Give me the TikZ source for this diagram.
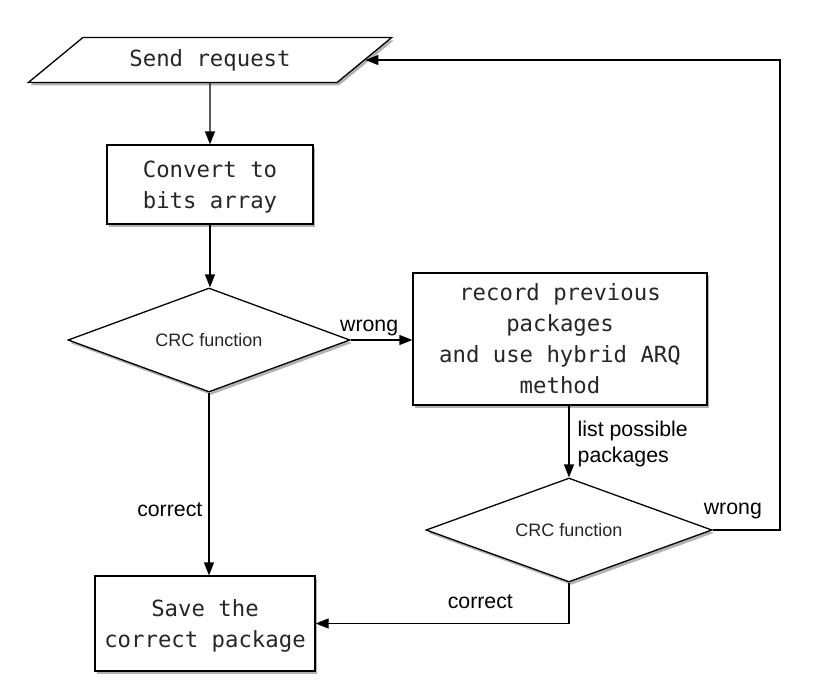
\documentclass[tikz,border=0pt]{standalone}
\usepackage{fontspec}
\setmonofont{DejaVu Sans Mono}
\setsansfont{Liberation Sans}
\usetikzlibrary{shapes.geometric,shadows,arrows.meta}
\begin{document}
\begin{tikzpicture}[x=1pt,y=-1pt,
  every node/.style={inner sep=0pt},
  base/.style={draw=black, line width=1.3pt, fill=white,
    drop shadow={shadow xshift=2pt, shadow yshift=-3pt, opacity=0.3, fill=black},
    font=\fontsize{22.3}{31}\selectfont\ttfamily, text=black!85, align=center},
  lowtext/.style={text depth=-3pt},
  procbox/.style={base, rectangle, lowtext},
  iobox/.style={base, trapezium, trapezium left angle=32, trapezium right angle=148,
    trapezium stretches=true},
  decision/.style={base, diamond, aspect=2.75, font=\fontsize{18}{22}\selectfont\sffamily},
  conn/.style={line width=1.3pt, -{Triangle[length=13pt,width=10pt]}},
  lbl/.style={font=\fontsize{21.3}{26}\selectfont\sffamily, text=black, align=center}
]
\useasboundingbox (0,0) rectangle (824,698);

\node[iobox, minimum width=364pt, minimum height=45pt] (send) at (210,60) {Send request};
\node[procbox, minimum width=206pt, minimum height=79pt] (conv) at (210,184.5) {Convert to\\bits array};
\node[decision, minimum width=282pt, minimum height=104pt] (d1) at (209,340) {CRC function};
\node[procbox, minimum width=294pt, minimum height=132pt] (rec) at (560,339) {record previous\\packages\\and use hybrid ARQ\\method};
\node[decision, minimum width=286pt, minimum height=104pt] (d2) at (569,530) {CRC function};
\node[procbox, minimum width=220pt, minimum height=95pt] (save) at (205,623.5) {Save the\\correct package};

\draw[conn] (send.south) -- (conv.north);
\draw[conn] (conv.south) -- (d1.north -| conv.south);
\draw[conn] (d1.east) -- (d1.east -| rec.west) node[lbl, pos=0.3, above=3pt] {wrong};
\draw[conn] (d2.north |- rec.south) -- (d2.north)
  node[lbl, midway, right=8pt, yshift=-2pt, align=left] {list possible\\packages};
\coordinate (loopc) at (780,530);
\draw[conn] (d2.east) -- (loopc) node[lbl, pos=0.3, above=10pt] {wrong} |- (send.east);
\draw[conn] (d2.south) |- (save.east) node[lbl, pos=0.675, above=14pt] {correct};
\draw[conn] (d1.south) -- (d1.south |- save.north) node[lbl, pos=0.64, left=6pt] {correct};
\end{tikzpicture}
\end{document}
